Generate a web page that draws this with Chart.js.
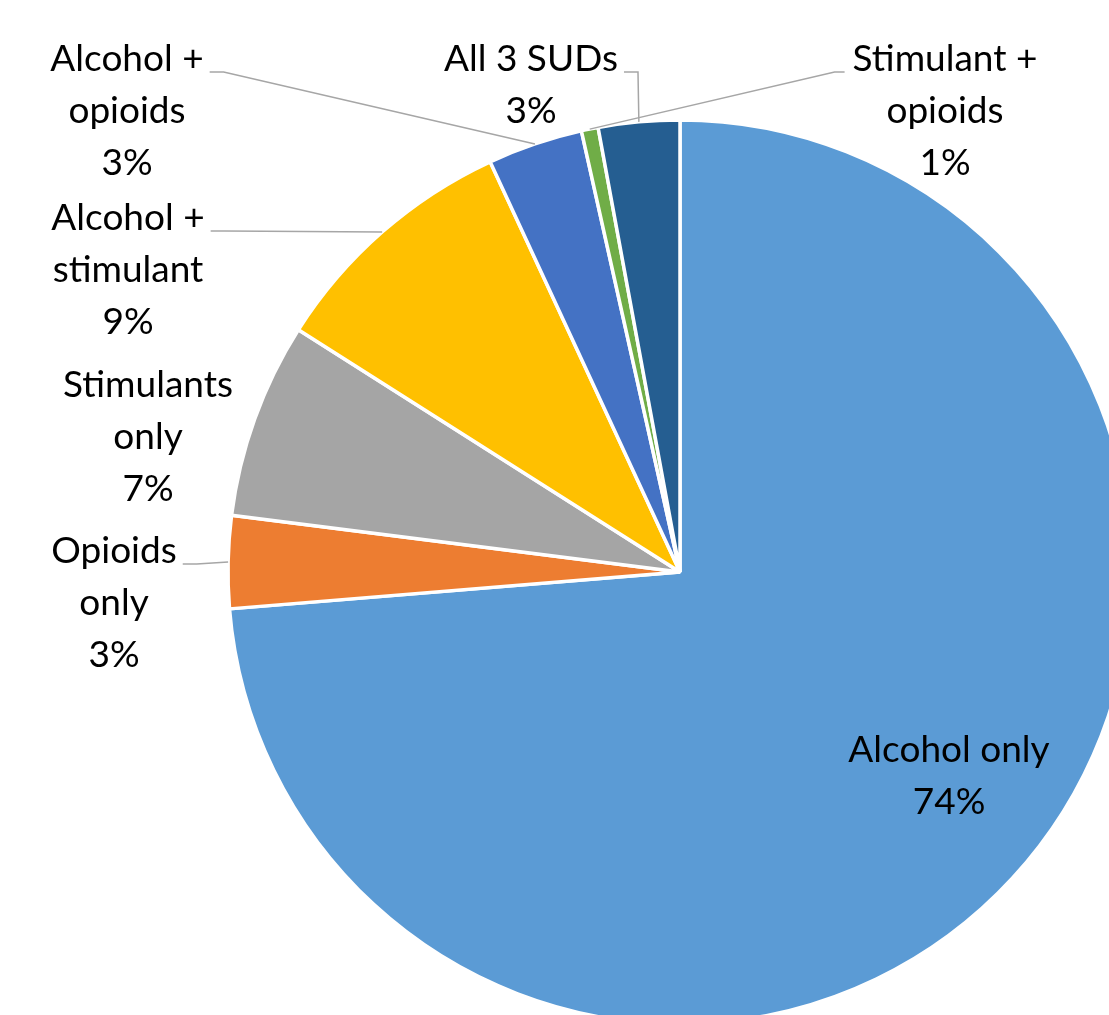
<!DOCTYPE html>
<html>
<head>
<meta charset="utf-8">
<script src="https://cdn.jsdelivr.net/npm/chart.js@4/dist/chart.umd.min.js"></script>
<style>
  html, body { margin: 0; padding: 0; background: #fff; overflow: hidden; }
  #wrap { position: absolute; left: 0; top: 0; width: 1140px; height: 1030px; }
</style>
</head>
<body>
<div id="wrap"><canvas id="sudPie"></canvas></div>
<script>
const categories = [
    "Alcohol only",
    "Opioids only",
    "Stimulants only",
    "Alcohol + stimulant",
    "Alcohol + opioids",
    "Stimulant + opioids",
    "All 3 SUDs",
];
const shares = [73.7, 3.3, 7.0, 9.1, 3.4, 0.6, 2.9];
const labelLines = [
    ["Alcohol only"],
    ["Opioids", "only"],
    ["Stimulants", "only"],
    ["Alcohol +", "stimulant"],
    ["Alcohol +", "opioids"],
    ["Stimulant +", "opioids"],
    ["All 3 SUDs"],
];
const colors = ["#5B9BD5", "#ED7D31", "#A5A5A5", "#FFC000", "#4472C4", "#70AD47", "#255E91"];

// label box centres, as offsets from the pie centre (layout only)
const labelOffset = [
    { dx: 269, dy: 178, leader: false },
    { dx: -566, dy: -21, leader: true },
    { dx: -532, dy: -187, leader: false },
    { dx: -552, dy: -354, leader: true },
    { dx: -553, dy: -513, leader: true },
    { dx: 265, dy: -513, leader: true },
    { dx: -149, dy: -513, leader: true },
];

const FONT = "37px Lato";
const LINE_H = 52;

const labelPlugin = {
    id: "pieLabels",
    afterDraw(chart) {
        const ctx = chart.ctx;
        const arcs = chart.getDatasetMeta(0).data;
        ctx.save();
        ctx.font = FONT;
        ctx.textAlign = "center";
        ctx.textBaseline = "middle";
        arcs.forEach((arc, i) => {
            const cx = arc.x, cy = arc.y;
            const lines = labelLines[i].concat([Math.round(shares[i]) + "%"]);
            const lx = cx + labelOffset[i].dx;
            const ly = cy + labelOffset[i].dy;
            ctx.fillStyle = "#000";
            lines.forEach((t, k) => ctx.fillText(t, lx, ly + k * LINE_H));

            if (!labelOffset[i].leader) return;
            const mid = (arc.startAngle + arc.endAngle) / 2;
            const ex = cx + Math.cos(mid) * arc.outerRadius;
            const ey = cy + Math.sin(mid) * arc.outerRadius;
            const w = ctx.measureText(labelLines[i][0]).width;
            const sy = ly + 13;
            let sx, hx;
            if (ex > lx) {
                sx = lx + w / 2 + 6;
                hx = sx + Math.min(14, Math.abs(ex - sx));
            } else {
                sx = lx - w / 2 - 8;
                hx = sx - Math.min(10, Math.abs(ex - sx));
            }
            ctx.strokeStyle = "#A6A6A6";
            ctx.lineWidth = 1.5;
            ctx.beginPath();
            ctx.moveTo(sx, sy);
            ctx.lineTo(hx, sy);
            ctx.lineTo(ex, ey);
            ctx.stroke();
        });
        ctx.restore();
    },
};

const data = {
    labels: categories,
    datasets: [
        {
            data: shares,
            backgroundColor: colors,
            borderColor: "#FFFFFF",
            borderWidth: 3.5,
            radius: 452,
        },
    ],
};

const config = {
    type: "pie",
    data: data,
    options: {
        responsive: true,
        maintainAspectRatio: false,
        animation: false,
        layout: {
            padding: { left: 220, top: 114, right: 0, bottom: 0 },
        },
        plugins: {
            legend: { display: false },
            tooltip: { enabled: false },
        },
    },
    plugins: [labelPlugin],
};

new Chart(document.getElementById("sudPie"), config);
</script>
</body>
</html>
